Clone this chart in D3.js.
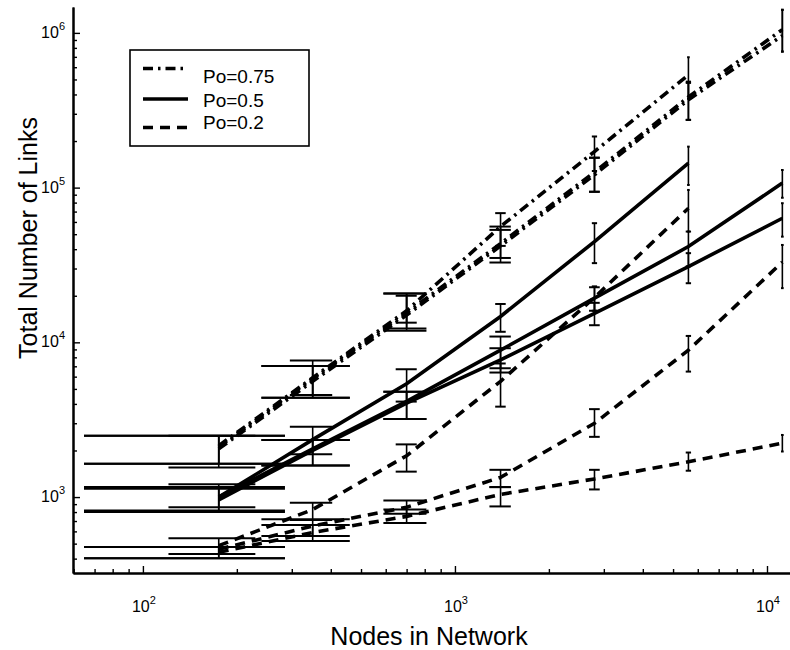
<!DOCTYPE html>
<html>
<head>
<meta charset="utf-8">
<script src="https://cdn.jsdelivr.net/npm/d3@7"></script>
<style>
  body { margin: 0; background: #fff; }
  svg { display: block; }
  text { font-family: "Liberation Sans", Arial, Helvetica, sans-serif; fill: #000; }
</style>
</head>
<body>
<svg id="chart" width="790" height="650"></svg>
<script>
// Network sizes (x values)
const nodes = [175, 350, 700, 1400, 2800, 5600, 11200];

// Po = 0.75 runs (dash-dot)
const po75a   = [2150, 5900, 16000, 56000, 171000, 535000];
const po75aLo = [1550, 4570, 13400, 42000, 128000, 375000];
const po75aHi = [2490, 7620, 20000, 68400, 214000, 696000];
const po75b   = [2100, 5800, 15500, 43500, 126000, 385000, 1050000];
const po75bLo = [1640, 4380, 12300, 32800, 94000, 274000, 757000];
const po75bHi = [2490, 7030, 20700, 53300, 156000, 484000, 1410000];
const po75c   = [2050, 5600, 15000, 42000, 121000, 370000, 960000];
const po75cLo = [1640, 4380, 11900, 35100, 94000, 274000, 757000];
const po75cHi = [2490, 7030, 20700, 56000, 156000, 475000, 1410000];

// Po = 0.5 runs (solid)
const po50a   = [1000, 2350, 5400, 14700, 44800, 144000];
const po50aLo = [860, 1890, 4140, 11700, 32500, 104000];
const po50aHi = [1210, 2850, 6700, 17700, 58900, 184000];
const po50b   = [1000, 2050, 4150, 8900, 19300, 41600, 107000];
const po50bLo = [820, 1600, 3200, 6800, 16000, 31000, 86000];
const po50bHi = [1160, 2340, 4800, 10900, 22700, 52000, 130000];
const po50c   = [960, 2000, 4050, 7700, 15400, 30900, 63400];
const po50cLo = [800, 1600, 3200, 6380, 12900, 24100, 48200];
const po50cHi = [1130, 2340, 4800, 9160, 18000, 37700, 79300];

// Po = 0.2 runs (dashed)
const po20a   = [485, 830, 1850, 5600, 19500, 73600];
const po20aLo = [428, 711, 1460, 3840, 16000, 52000];
const po20aHi = [542, 920, 2190, 7300, 23000, 96600];
const po20b   = [460, 650, 860, 1340, 3000, 8900, 33000];
const po20bLo = [403, 560, 780, 1160, 2450, 6470, 22400];
const po20bHi = [475, 720, 950, 1500, 3700, 11000, 42600];
const po20c   = [440, 590, 750, 1040, 1310, 1690, 2230];
const po20cLo = [403, 520, 680, 870, 1120, 1480, 1970];
const po20cHi = [475, 660, 830, 1160, 1500, 1940, 2520];

// Legend entries and decade tick exponents
const legendLabels = ["Po=0.75", "Po=0.5", "Po=0.2"];
const xDecades = [2, 3, 4];
const yDecades = [3, 4, 5, 6];

const styles = {
  dashdot: { dash: "10,5,2.5,5", width: 3.6 },
  solid:   { dash: null,         width: 3.6 },
  dashed:  { dash: "10,7",       width: 3.6 }
};

const series = [
  { style: "dashdot", v: po75a, lo: po75aLo, hi: po75aHi },
  { style: "dashdot", v: po75b, lo: po75bLo, hi: po75bHi },
  { style: "dashdot", v: po75c, lo: po75cLo, hi: po75cHi },
  { style: "solid",   v: po50a, lo: po50aLo, hi: po50aHi },
  { style: "solid",   v: po50b, lo: po50bLo, hi: po50bHi },
  { style: "solid",   v: po50c, lo: po50cLo, hi: po50cHi },
  { style: "dashed",  v: po20a, lo: po20aLo, hi: po20aHi },
  { style: "dashed",  v: po20b, lo: po20bLo, hi: po20bHi },
  { style: "dashed",  v: po20c, lo: po20cLo, hi: po20cHi }
].map(s => {
  const pts = s.v.map((v, i) => ({ x: nodes[i], y: v, lo: s.lo[i], hi: s.hi[i] }));
  const xs = pts.map(p => p.x);
  // cap half-width in data units, scaled with the series' x extent
  const tee = (d3.max(xs) - d3.min(xs)) / 100;
  return { ...s, pts, tee };
});

const svg = d3.select("#chart");

const x = d3.scaleLog().domain([59.7, 11850]).range([73, 790]);
const y = d3.scaleLog().domain([323, 1.47e6]).range([573, 7]);

// minor tick values (2..9 x 10^k) inside each domain
function minorTicks(scale) {
  const [a, b] = scale.domain();
  const out = [];
  for (let k = Math.floor(Math.log10(a)); k <= Math.ceil(Math.log10(b)); k++) {
    for (let m = 2; m <= 9; m++) {
      const v = m * Math.pow(10, k);
      if (v >= a && v <= b) out.push(v);
    }
  }
  return out;
}

// Error bars
const eb = svg.append("g").attr("class", "errorbars")
  .attr("stroke", "#000").attr("fill", "none");
series.forEach(s => {
  s.pts.forEach(p => {
    eb.append("line")
      .attr("x1", x(p.x)).attr("x2", x(p.x))
      .attr("y1", y(p.lo)).attr("y2", y(p.hi))
      .attr("stroke-width", 1.6);
    [p.lo, p.hi].forEach(v => {
      eb.append("line")
        .attr("x1", x(p.x - s.tee)).attr("x2", x(p.x + s.tee))
        .attr("y1", y(v)).attr("y2", y(v))
        .attr("stroke-width", 2);
    });
  });
});

// Series lines
const line = d3.line().x(d => x(d.x)).y(d => y(d.y));
const lines = svg.append("g").attr("class", "lines").attr("fill", "none").attr("stroke", "#000");
series.forEach(s => {
  const st = styles[s.style];
  lines.append("path")
    .attr("d", line(s.pts))
    .attr("stroke-width", st.width)
    .attr("stroke-dasharray", st.dash);
});

// Axes (ticks point into the plot)
const yMinor = svg.append("g").attr("transform", "translate(73,0)")
  .call(d3.axisLeft(y).tickValues(minorTicks(y)).tickSize(-4).tickSizeOuter(0).tickFormat(""));
const yMajor = svg.append("g").attr("transform", "translate(73,0)")
  .call(d3.axisLeft(y).tickValues(yDecades.map(e => Math.pow(10, e))).tickSize(-7).tickSizeOuter(0).tickFormat(""));
const xMinor = svg.append("g").attr("transform", "translate(0,573)")
  .call(d3.axisBottom(x).tickValues(minorTicks(x)).tickSize(-4).tickSizeOuter(0).tickFormat(""));
const xMajor = svg.append("g").attr("transform", "translate(0,573)")
  .call(d3.axisBottom(x).tickValues(xDecades.map(e => Math.pow(10, e))).tickSize(-7).tickSizeOuter(0).tickFormat(""));
[yMinor, yMajor, xMinor, xMajor].forEach(g => {
  g.selectAll("line").attr("stroke", "#000").attr("stroke-width", 1.4);
  g.select(".domain").attr("stroke", "#000").attr("stroke-width", 2);
});

// Decade labels as 10 with superscript exponent
yDecades.forEach(e => {
  const t = svg.append("text")
    .attr("x", 65).attr("y", y(Math.pow(10, e)) + 5)
    .attr("text-anchor", "end").attr("font-size", 16);
  t.append("tspan").text("10");
  t.append("tspan").attr("font-size", 11).attr("dy", -8).text(e);
});
xDecades.forEach(e => {
  const t = svg.append("text")
    .attr("x", x(Math.pow(10, e)) + 1).attr("y", 612)
    .attr("text-anchor", "middle").attr("font-size", 16);
  t.append("tspan").text("10");
  t.append("tspan").attr("font-size", 11).attr("dy", -8).text(e);
});

// Axis titles
svg.append("text")
  .attr("x", 429).attr("y", 645)
  .attr("text-anchor", "middle").attr("font-size", 25)
  .text("Nodes in Network");
svg.append("text")
  .attr("transform", "translate(37,238) rotate(-90)")
  .attr("text-anchor", "middle").attr("font-size", 25)
  .text("Total Number of Links");

// Legend
const lg = svg.append("g").attr("class", "legend");
lg.append("rect")
  .attr("x", 130).attr("y", 50).attr("width", 179).attr("height", 96)
  .attr("fill", "#fff").attr("stroke", "#000").attr("stroke-width", 1.6);
const legendStyles = ["dashdot", "solid", "dashed"];
const lineYs = [68.5, 99, 127.5];
const textYs = [83, 107, 128.5];
legendLabels.forEach((lab, i) => {
  const st = styles[legendStyles[i]];
  lg.append("line")
    .attr("x1", 143).attr("x2", 188)
    .attr("y1", lineYs[i]).attr("y2", lineYs[i])
    .attr("stroke", "#000").attr("stroke-width", st.width)
    .attr("stroke-dasharray", st.dash);
  lg.append("text")
    .attr("x", 203).attr("y", textYs[i])
    .attr("font-size", 19)
    .text(lab);
});
</script>
</body>
</html>
